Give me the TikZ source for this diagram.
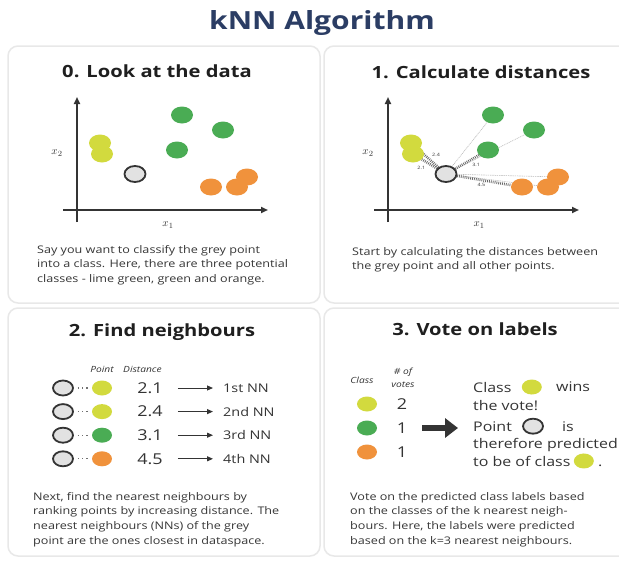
\documentclass[tikz,border=0pt]{standalone}
\usepackage{fontspec}
\setmainfont[FakeStretch=1.2]{Open Sans}
\usepackage{xcolor}
\usetikzlibrary{shapes.geometric,arrows.meta,positioning,backgrounds}

\definecolor{headblue}{RGB}{43,61,100}
\definecolor{limec}{RGB}{210,218,62}
\definecolor{greenc}{RGB}{74,172,84}
\definecolor{orangec}{RGB}{240,146,60}
\definecolor{greyc}{RGB}{226,226,226}
\definecolor{darkc}{RGB}{52,52,52}
\definecolor{framec}{RGB}{232,232,232}
\definecolor{textc}{RGB}{55,55,55}

\begin{document}
\begin{tikzpicture}[x=1pt, y=-1pt,
    panel/.style={draw=framec, line width=1.5pt, rounded corners=10pt},
    paneltitle/.style={font=\fontsize{16.8}{20}\selectfont\bfseries, text=black!88, anchor=base, inner sep=0pt},
    paneltext/.style={font=\fontsize{10.5}{14.7}\selectfont, text=textc, align=left, anchor=north west, inner sep=0pt},
    dot/.style={shape=ellipse, inner sep=0pt, minimum width=22pt, minimum height=17pt},
    smalldot/.style={dot, minimum width=20pt, minimum height=15pt},
    limedot/.style={dot, fill=limec},
    greendot/.style={dot, fill=greenc},
    orangedot/.style={dot, fill=orangec},
    greydot/.style={dot, fill=greyc, draw=darkc, line width=1.8pt, minimum width=21pt, minimum height=16pt},
    axisline/.style={draw=darkc, line width=1.8pt, -{Triangle[length=7pt, width=6pt]}},
    axislabel/.style={font=\fontsize{11}{11}\selectfont, text=darkc, inner sep=0pt},
    nearline/.style={draw=darkc!75, line width=2.6pt, dash pattern=on 0.8pt off 1.1pt},
    farline/.style={draw=black!28, line width=0.6pt, dash pattern=on 1pt off 0.8pt},
    dist/.style={font=\fontsize{4.5}{5}\selectfont, text=darkc, inner sep=1.5pt},
    header/.style={font=\fontsize{8.5}{12.5}\selectfont\itshape, text=darkc, inner sep=0pt, align=center},
    distnum/.style={font=\fontsize{15}{15}\selectfont, text=darkc, inner sep=0pt},
    rank/.style={font=\fontsize{12}{12}\selectfont, text=darkc, inner sep=0pt, anchor=west},
    dotline/.style={draw=darkc!70, line width=1.3pt, dash pattern=on 1.2pt off 3pt, shorten <=4pt, shorten >=3pt},
    thinarrow/.style={draw=darkc, line width=1pt, -{Triangle[length=6pt, width=5pt]}, shorten <=15pt, shorten >=10pt},
    bigarrow/.style={draw=darkc, line width=6pt, -{Triangle[length=13pt, width=19pt]}, shorten <=15pt, shorten >=15pt},
    verdict/.style={font=\fontsize{13.3}{16}\selectfont, text=darkc, inner sep=0pt, anchor=base west}]

    \useasboundingbox (0,0) rectangle (619,562);
    \node[font=\fontsize{25}{30}\selectfont\bfseries, text=headblue, anchor=base, inner sep=0pt] (title) at (322,30) {kNN Algorithm};

    \draw[panel] (8,46) rectangle (320,303);
    \draw[panel] (324,46) rectangle (640,303);
    \draw[panel] (8,308) rectangle (320,556);
    \draw[panel] (324,308) rectangle (640,556);

    \node[paneltitle] (t0) at (157,77) {0. Look at the data};
    \node[paneltitle] (t1) at (481,78) {1. Calculate distances};
    \node[paneltitle] (t2) at (162,336) {2. Find neighbours};
    \node[paneltitle] (t3) at (475,335) {3. Vote on labels};

    \foreach \s/\dx in {a/0, b/311} {
      \begin{scope}[xshift=\dx]
        \draw[axisline] (77,222) -- (77,97);
        \draw[axisline] (63,210) -- (268,210);
        \node[axislabel] (\s-xtwo) at (57,153) {$x_2$};
        \node[axislabel] (\s-xone) at (168,225) {$x_1$};
        \node[limedot] (\s-l1) at (100,143) {};
        \node[limedot] (\s-l2) at (102,154) {};
        \node[greendot] (\s-g1) at (182,115) {};
        \node[greendot] (\s-g2) at (223,130) {};
        \node[greendot] (\s-g3) at (177,150) {};
        \node[orangedot] (\s-o3) at (247,177) {};
        \node[orangedot] (\s-o1) at (211,187) {};
        \node[orangedot] (\s-o2) at (237,187) {};
        \node[greydot] (\s-grey) at (135,174) {};
      \end{scope}
    }

    \begin{scope}[on background layer]
      \fill[white] (0,0) rectangle (619,562);
      \draw[farline] (b-grey) -- (b-g1);
      \draw[farline] (b-grey) -- (b-g2);
      \draw[farline] (b-grey) -- (b-o2);
      \draw[farline] (b-grey) -- (b-o3);
      \draw[nearline] (b-grey) -- (b-l1) node[dist, pos=0.45, above right] {2.4};
      \draw[nearline] (b-grey) -- (b-l2) node[dist, pos=0.6, below left] {2.1};
      \draw[nearline] (b-grey) -- (b-g3) node[dist, pos=0.6, below right] {3.1};
      \draw[nearline] (b-grey) -- (b-o1) node[dist, pos=0.45, below] {4.5};
    \end{scope}

    \node[paneltext] (s0) at (37,245) {Say you want to classify the grey point\\into a class. Here, there are three potential\\classes - lime green, green and orange.};
    \node[paneltext] (s1) at (352,247) {Start by calculating the distances between\\the grey point and all other points.};

    \node[header] (hpoint) at (102,369) {Point};
    \node[header, anchor=west] (hdist) at (123,369) {Distance};
    \foreach \i/\col/\dst/\nth in {0/limec/2.1/1st NN, 1/limec/2.4/2nd NN, 2/greenc/3.1/3rd NN, 3/orangec/4.5/4th NN} {
      \node[greydot, smalldot] (p\i) at (63,{388+23.6*\i}) {};
      \node[smalldot, fill=\col] (c\i) at (102,{388+23.6*\i}) {};
      \draw[dotline] (p\i) -- (c\i);
      \node[distnum] (d\i) at (150,{388+23.6*\i}) {\dst};
      \node[rank] (r\i) at (223,{388+23.6*\i}) {\nth};
      \draw[thinarrow] (d\i) -- (r\i);
    }
    \node[paneltext] (s2) at (33,492) {Next, find the nearest neighbours by\\ranking points by increasing distance. The\\nearest neighbours (NNs) of the grey\\point are the ones closest in dataspace.};

    \node[header] (hclass) at (362,380) {Class};
    \node[header] (hvotes) at (403,378) {\# of\\votes};
    \foreach \i/\col/\votes in {0/limec/2, 1/greenc/1, 2/orangec/1} {
      \node[smalldot, fill=\col] (vc\i) at (367,{404+24*\i}) {};
      \node[distnum] (vn\i) at (402,{404+24*\i}) {\votes};
    }
    \node[verdict] (w1) at (473,392) {Class};
    \node[smalldot, fill=limec, right=10pt of w1] (wc1) {};
    \node[verdict, right=14pt of wc1] (w1b) {wins};
    \node[verdict] (w2) at (473,410) {the vote!};
    \node[verdict] (w3) at (473,431) {Point};
    \node[greydot, smalldot, right=10pt of w3] (wc3) {};
    \node[verdict, right=18pt of wc3] (w3b) {is};
    \node[verdict] (w4) at (473,448) {therefore predicted};
    \node[verdict] (w5) at (473,466) {to be of class};
    \node[smalldot, fill=limec, right=3pt of w5] (wc5) {};
    \node[verdict] (w5b) at ([xshift=4pt]wc5.east |- w5.base) {.};
    \draw[bigarrow] (vn1.east) -- (vn1.east -| w3.west);
    \node[paneltext] (s3) at (350,492) {Vote on the predicted class labels based\\on the classes of the k nearest neigh-\\bours. Here, the labels were predicted\\based on the k=3 nearest neighbours.};
\end{tikzpicture}
\end{document}
